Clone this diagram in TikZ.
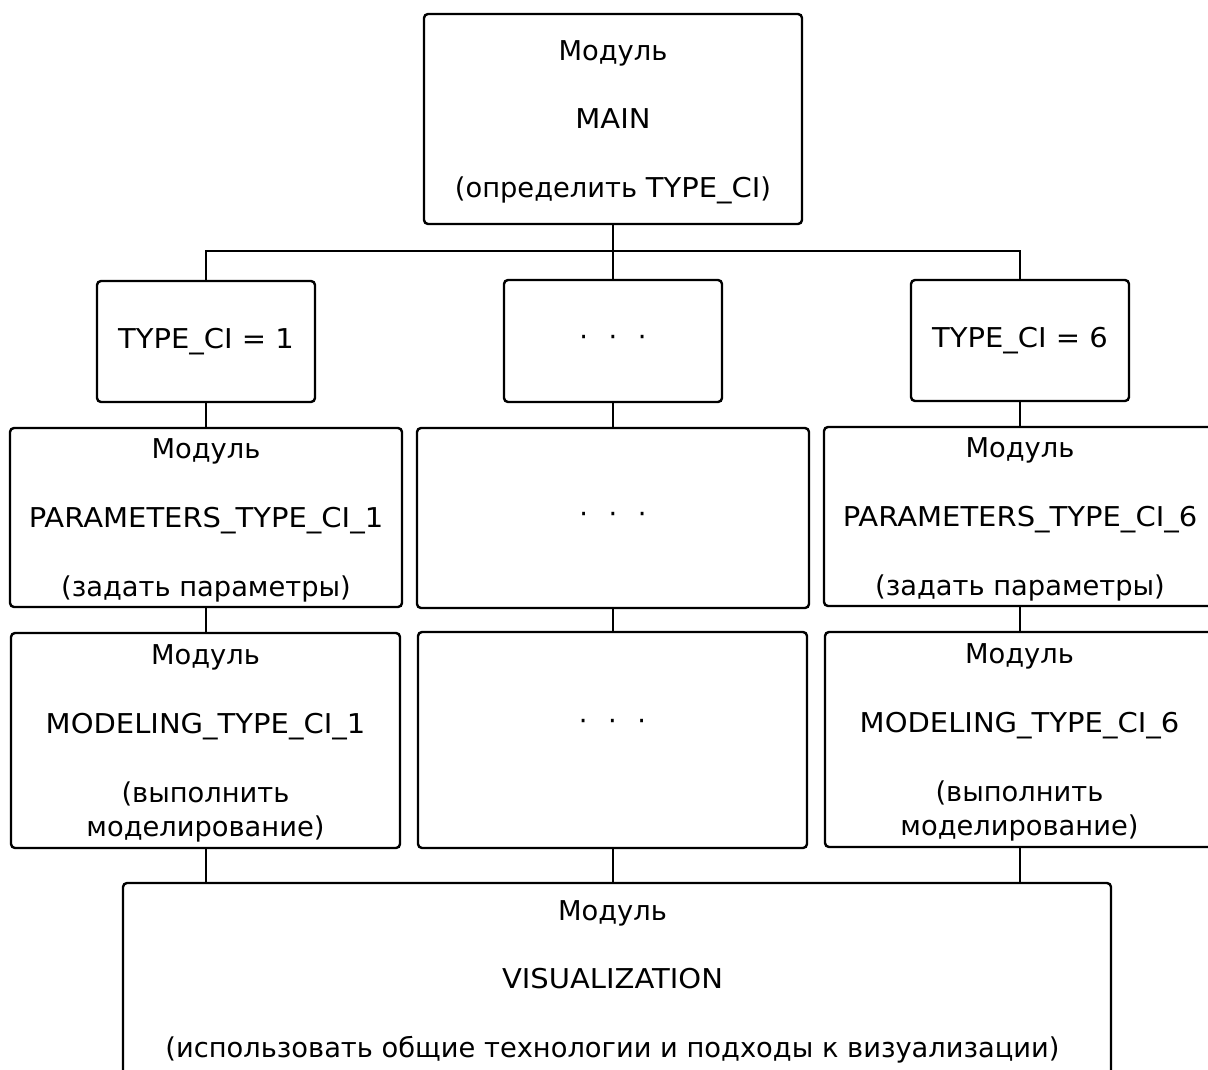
\documentclass[tikz,border=0pt]{standalone}
\usepackage{fontspec}
\setmainfont{DejaVu Sans}
\newfontfamily\idfont[FakeStretch=1.063]{DejaVu Sans}
\begin{document}
\begin{tikzpicture}[x=1pt,y=-1pt,
  box/.style={draw, line width=2.4pt, rounded corners=4pt, inner sep=0pt, align=center,
    font=\fontsize{27.3}{34.4}\selectfont},
  multi/.style={text depth=0pt},
  conn/.style={line width=2.2pt}]
\clip (0,0) rectangle (1208,1070);
\useasboundingbox (0,0) rectangle (1208,1070);
\newcommand{\dotsrow}{·\hspace{20.5pt}·\hspace{20.5pt}·}
\newcommand{\idt}[1]{{\idfont #1}}
\newcommand{\lsh}{\rule{9pt}{0pt}}
% top
\node[box, multi, minimum width=378, minimum height=210] (main) at (613,119)
  {Модуль\\[34.4pt]\idt{MAIN}\\[34.4pt](определить \idt{TYPE\_CI})};
% row 2
\node[box, minimum width=218, minimum height=121] (t1) at (206,341.5) {\idt{TYPE\_CI = 1}};
\node[box, minimum width=218, minimum height=122] (tm) at (613,341) {\dotsrow};
\node[box, minimum width=218, minimum height=121] (t6) at (1020,340.5) {\idt{TYPE\_CI = 6}};
% row 3
\node[box, multi, minimum width=392, minimum height=179] (p1) at (206,517.5)
  {Модуль\\[34.4pt]\idt{PARAMETERS\_TYPE\_CI\_1}\\[34.4pt](задать параметры)};
\node[box, minimum width=392, minimum height=180] (pm) at (613,518) {\dotsrow};
\node[box, multi, minimum width=392, minimum height=179] (p6) at (1020,516.5)
  {Модуль\\[34.4pt]\idt{PARAMETERS\_TYPE\_CI\_6}\\[34.4pt](задать параметры)};
% row 4
\node[box, multi, minimum width=389, minimum height=215] (m1) at (205.5,740.5)
  {Модуль\\[34.4pt]\idt{MODELING\_TYPE\_CI\_1}\\[34.4pt](выполнить\\моделирование)};
\node[box, minimum width=389, minimum height=216] (mm) at (612.5,740)
  {\raisebox{15pt}[\height][\depth]{\dotsrow}};
\node[box, multi, minimum width=389, minimum height=215] (m6) at (1019.5,739.5)
  {Модуль\\[34.4pt]\idt{MODELING\_TYPE\_CI\_6}\\[34.4pt](выполнить\\моделирование)};
% bottom
\node[box, multi, minimum width=988, minimum height=192] (vis) at (617,979)
  {Модуль\lsh\\[34.4pt]\idt{VISUALIZATION}\lsh\\[34.4pt](использовать общие технологии и подходы к визуализации)\lsh};
% connectors
\coordinate (bus) at (613,251);
\draw[conn] (main.south) -- (bus);
\draw[conn] (t1.north) |- (bus) -| (t6.north);
\draw[conn] (bus) -- (tm.north);
\draw[conn] (t1.south) -- (t1.south |- p1.north);
\draw[conn] (tm.south) -- (tm.south |- pm.north);
\draw[conn] (t6.south) -- (t6.south |- p6.north);
\draw[conn] (p1.south) -- (p1.south |- m1.north);
\draw[conn] (pm.south) -- (pm.south |- mm.north);
\draw[conn] (p6.south) -- (p6.south |- m6.north);
\draw[conn] (p1.south |- m1.south) -- (p1.south |- vis.north);
\draw[conn] (pm.south |- mm.south) -- (pm.south |- vis.north);
\draw[conn] (p6.south |- m6.south) -- (p6.south |- vis.north);
\end{tikzpicture}
\end{document}
